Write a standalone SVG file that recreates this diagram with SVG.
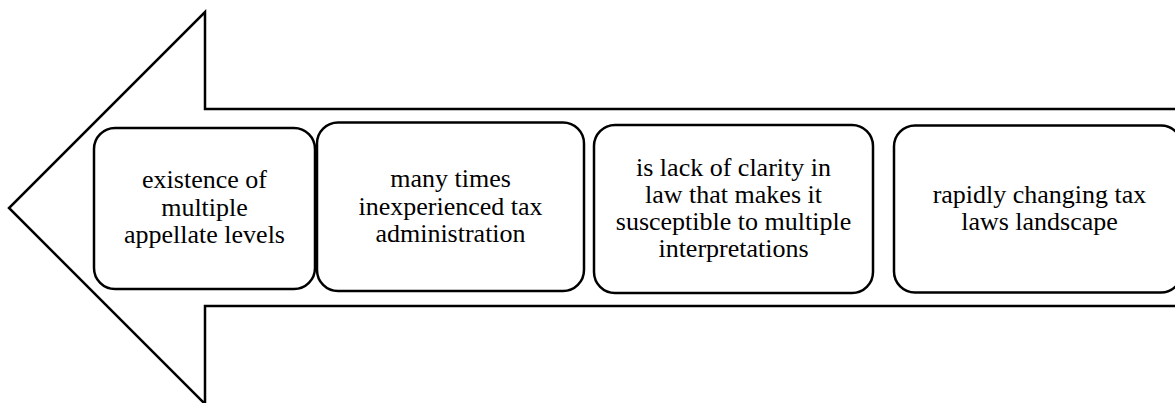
<svg xmlns="http://www.w3.org/2000/svg" width="1175" height="403" viewBox="0 0 1175 403">
<style>
.shape{fill:#fff;stroke:#000;stroke-width:2.5;}
.box{fill:#fff;stroke:#000;stroke-width:2.5;}
.t{font-family:"Liberation Serif","Times New Roman",serif;font-size:26px;fill:#000;text-anchor:middle;}
</style>
<g id="arrow">
<path class="shape" d="M1180,109 L205,109 L205,12 L9,208 L205,404 L205,306 L1180,306"/>
</g>
<g id="node1">
<rect class="box" x="94" y="128" width="221" height="161" rx="21" ry="21"/>
<text class="t"><tspan x="204.5" y="188">existence of</tspan><tspan x="204.5" y="215.5">multiple</tspan><tspan x="204.5" y="243">appellate levels</tspan></text>
</g>
<g id="node2">
<rect class="box" x="317" y="122.5" width="267" height="168.5" rx="21" ry="21"/>
<text class="t"><tspan x="450.5" y="187">many times</tspan><tspan x="450.5" y="214.5">inexperienced tax</tspan><tspan x="450.5" y="242">administration</tspan></text>
</g>
<g id="node3">
<rect class="box" x="594" y="125" width="279" height="168" rx="21" ry="21"/>
<text class="t"><tspan x="733.5" y="176">is lack of clarity in</tspan><tspan x="733.5" y="203">law that makes it</tspan><tspan x="733.5" y="230">susceptible to multiple</tspan><tspan x="733.5" y="257">interpretations</tspan></text>
</g>
<g id="node4">
<rect class="box" x="894" y="125.5" width="288" height="167" rx="21" ry="21"/>
<text class="t"><tspan x="1039.5" y="203">rapidly changing tax</tspan><tspan x="1039.5" y="230">laws landscape</tspan></text>
</g>
<g id="connectors"></g>
</svg>
